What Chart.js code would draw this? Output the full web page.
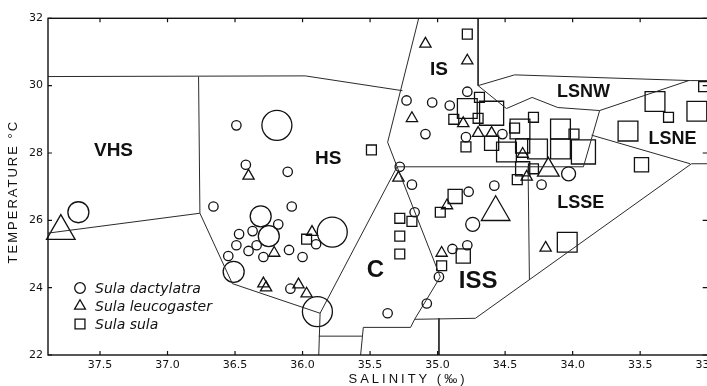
<!DOCTYPE html>
<html><head><meta charset="utf-8">
<script src="https://cdn.jsdelivr.net/npm/chart.js@4.4.1/dist/chart.umd.min.js"></script>
<style>
html,body{margin:0;padding:0;background:#fff;overflow:hidden;width:707px;height:386px}
#wrap{width:728px;height:386px}
</style></head>
<body><div id="wrap"><canvas id="c" width="728" height="386"></canvas></div>
<script>
// ---- tick labels ----
const salinityTicks = [33.0, 33.5, 34.0, 34.5, 35.0, 35.5, 36.0, 36.5, 37.0, 37.5];
const temperatureTicks = [22, 24, 26, 28, 30, 32];

// ---- Sula dactylatra (circles): salinity, temperature, colony-size class ----
const dactylatraSalinity = [37.66,36.49,36.19,36.42,36.11,36.66,36.08,36.31,36.18,36.47,36.37,36.25,36.49,36.34,36.40,36.29,36.10,36.00,35.90,35.78,36.55,36.51,36.09,35.89,35.28,35.19,35.37,35.17,35.23,35.04,34.91,35.09,34.78,34.79,34.52,34.58,34.23,34.77,34.74,34.89,34.78,34.99,35.08,34.03];
const dactylatraTemperature = [26.24,28.82,28.82,27.65,27.44,26.41,26.41,26.12,25.88,25.59,25.68,25.53,25.26,25.26,25.09,24.91,25.12,24.91,25.29,25.65,24.94,24.47,23.97,23.29,27.59,27.06,23.24,26.24,29.56,29.50,29.41,28.56,29.82,28.47,28.56,27.03,27.06,26.85,25.88,25.15,25.26,24.32,23.53,27.38];
const dactylatraSize = [3,1,4,1,1,1,1,3,1,1,1,3,1,1,1,1,1,1,1,4,1,3,1,4,1,1,1,1,1,1,1,1,1,1,1,1,1,1,2,1,1,1,1,2];

// ---- Sula leucogaster (triangles) ----
const leucogasterSalinity = [37.79,36.40,36.21,35.93,36.29,36.27,36.03,35.97,35.29,35.09,34.78,35.19,34.81,34.70,34.60,34.93,34.57,34.97,34.18,34.34,34.20,34.37];
const leucogasterTemperature = [25.68,27.32,25.03,25.65,24.12,24.00,24.09,23.82,27.26,31.24,30.74,29.03,28.88,28.59,28.59,26.44,26.24,25.03,27.50,27.29,25.18,27.97];
const leucogasterSize = [4,1,1,1,1,1,1,1,1,1,1,1,1,1,1,1,4,1,3,1,1,1];

// ---- Sula sula (squares) ----
const sulaSalinity = [35.49,34.78,34.69,34.78,34.60,34.88,34.70,34.79,34.60,34.39,34.43,34.29,34.49,34.37,34.26,34.09,33.99,34.09,33.92,34.37,34.29,34.41,34.87,34.98,34.81,34.97,35.28,35.19,35.28,35.28,34.04,33.39,33.29,33.59,33.49,33.03,33.08,35.97];
const sulaTemperature = [28.09,31.53,29.65,29.32,29.18,29.00,29.03,28.18,28.29,28.71,28.74,29.06,28.03,28.21,28.12,28.71,28.56,28.12,28.03,27.53,27.53,27.21,26.71,26.24,24.94,24.65,26.06,25.97,25.53,25.00,25.35,29.53,29.06,28.65,27.65,29.97,29.24,25.44];
const sulaSize = [1,1,1,3,4,1,1,1,2,3,1,1,3,2,3,3,1,3,4,2,1,1,2,1,2,1,1,1,1,1,3,3,1,3,2,1,3,1];

// ---- water-mass boundaries: [salinity, temperature] vertices ----
const boundaryTop = [[37.885,30.27],[35.98,30.29],[35.26,29.85]];
const boundaryVhsHs = [[36.77,30.27],[36.76,26.21]];
const boundaryHsSouth = [[37.885,25.62],[36.76,26.21],[36.52,24.12],[35.87,23.24],[35.30,27.59]];
const boundaryIsWestIssSouth = [[35.14,32.0],[35.37,28.32],[35.30,27.59],[34.98,24.32],[35.17,23.06],[34.72,23.09],[33.12,27.68],[32.985,27.68]];
const boundaryCWest = [[35.87,23.24],[35.88,22.0]];
const boundaryBoxTop = [[35.88,22.56],[35.56,22.56]];
const boundaryCSouth = [[35.57,22.0],[35.55,22.82],[35.20,22.82],[35.17,23.06]];
const boundaryIssSouth = [[34.99,23.09],[34.99,22.0]];
const boundaryIsSouth = [[35.30,27.59],[33.92,27.59],[33.80,29.26]];
const boundaryLsnwNorth = [[34.70,32.0],[34.70,30.0],[34.43,30.32],[33.13,30.15],[32.985,30.15]];
const boundaryLsnwSouth = [[34.70,30.0],[34.49,29.32],[34.30,29.65],[34.11,29.35],[33.80,29.26],[33.14,30.15]];
const boundaryLsneSouth = [[33.86,28.53],[33.13,27.68]];
const boundaryLsseWest = [[34.33,27.59],[34.32,24.24]];

// ---- water-mass labels ----
const regionNames = ['VHS','HS','IS','LSNW','LSNE','LSSE','ISS','C'];
const regionSalinity = [37.40,35.81,34.99,33.92,33.26,33.94,34.70,35.46];
const regionTemperature = [28.06,27.82,30.47,29.82,28.41,26.50,24.18,24.50];

// ---- styles (kept apart from the data) ----
const INK = '#111';
const regionFontPx = {VHS:19, HS:19, IS:19, LSNW:18, LSNE:18, LSSE:18, ISS:24, C:24};
const circleRadius = [0, 4.7, 7, 10.5, 15];
const triangleRadius = [0, 6.5, 10, 12.5, 16.5];
const squareRadius = [0, 7, 10, 14, 17];

const boundaries = [boundaryTop, boundaryVhsHs, boundaryHsSouth, boundaryIsWestIssSouth, boundaryCWest,
  boundaryBoxTop, boundaryCSouth, boundaryIssSouth, boundaryIsSouth, boundaryLsnwNorth, boundaryLsnwSouth,
  boundaryLsneSouth, boundaryLsseWest];

function speciesDataset(label, sal, temp, size, style, radii) {
  return {
    label,
    data: sal.map((s, i) => ({x: s, y: temp[i]})),
    pointStyle: style,
    pointRadius: size.map(c => radii[c]),
    pointBackgroundColor: 'rgba(0,0,0,0)',
    pointBorderColor: INK,
    pointBorderWidth: 1.3,
    showLine: false,
    clip: false
  };
}

const datasets = [
  ...boundaries.map(b => ({
    label: 'boundary',
    data: b.map(([s, t]) => ({x: s, y: t})),
    showLine: true, borderColor: '#2a2a2a', borderWidth: 1, pointRadius: 0, fill: false, tension: 0
  })),
  speciesDataset('Sula dactylatra', dactylatraSalinity, dactylatraTemperature, dactylatraSize, 'circle', circleRadius),
  speciesDataset('Sula leucogaster', leucogasterSalinity, leucogasterTemperature, leucogasterSize, 'triangle', triangleRadius),
  speciesDataset('Sula sula', sulaSalinity, sulaTemperature, sulaSize, 'rect', squareRadius)
];

const legendSymbols = {'circle': 5.3, 'triangle': 6.3, 'rect': 7};

const overlay = {
  id: 'overlay',
  afterDraw(chart) {
    const {ctx, chartArea: a, scales: {x, y}} = chart;
    ctx.save();
    // frame
    ctx.strokeStyle = INK;
    ctx.lineWidth = 1.4;
    ctx.strokeRect(a.left, a.top, a.right - a.left, a.bottom - a.top);
    // inward tick marks
    ctx.lineWidth = 1.2;
    ctx.beginPath();
    x.ticks.forEach(t => {
      const p = x.getPixelForValue(t.value);
      ctx.moveTo(p, a.bottom); ctx.lineTo(p, a.bottom - 4);
      ctx.moveTo(p, a.top); ctx.lineTo(p, a.top + 4);
    });
    y.ticks.forEach(t => {
      const p = y.getPixelForValue(t.value);
      ctx.moveTo(a.left, p); ctx.lineTo(a.left + 4, p);
      ctx.moveTo(a.right - 2, p); ctx.lineTo(a.right - 7, p);
    });
    ctx.stroke();
    // water-mass labels
    ctx.fillStyle = INK;
    ctx.textAlign = 'center';
    ctx.textBaseline = 'middle';
    regionNames.forEach((n, i) => {
      ctx.font = `bold ${regionFontPx[n]}px "Liberation Sans", Arial, sans-serif`;
      ctx.fillText(n, x.getPixelForValue(regionSalinity[i]), y.getPixelForValue(regionTemperature[i]));
    });
    // legend (inside, lower left)
    const species = chart.data.datasets.filter(d => d.label !== 'boundary');
    ctx.textAlign = 'left';
    ctx.font = 'italic 14px "DejaVu Sans", sans-serif';
    species.forEach((d, i) => {
      const ly = a.bottom - 67 + i * 18;
      const lx = a.left + 32;
      ctx.strokeStyle = INK; ctx.fillStyle = 'rgba(0,0,0,0)'; ctx.lineWidth = 1.3;
      Chart.helpers.drawPoint(ctx, {pointStyle: d.pointStyle, radius: legendSymbols[d.pointStyle], rotation: 0, borderWidth: 1.3}, lx, ly);
      ctx.fillStyle = INK;
      ctx.fillText(d.label, lx + 15, ly + 1);
    });
    // axis titles
    ctx.fillStyle = INK;
    ctx.font = '13px "Liberation Sans", Arial, sans-serif';
    ctx.textAlign = 'center';
    ctx.textBaseline = 'middle';
    try { ctx.letterSpacing = '3px'; } catch (e) {}
    ctx.fillText('SALINITY (‰)', 408, 379);
    try { ctx.letterSpacing = '2px'; } catch (e) {}
    ctx.translate(13, (a.top + a.bottom) / 2 + 5);
    ctx.rotate(-Math.PI / 2);
    ctx.fillText('TEMPERATURE °C', 0, 0);
    ctx.restore();
  }
};

new Chart(document.getElementById('c'), {
  type: 'scatter',
  data: {datasets},
  options: {
    responsive: false,
    animation: false,
    events: [],
    layout: {padding: {top: 15, right: 11, bottom: 0, left: 0}},
    plugins: {legend: {display: false}, tooltip: {enabled: false}},
    scales: {
      x: {
        type: 'linear', reverse: true, min: 32.985, max: 37.885,
        grid: {display: false, drawTicks: false},
        border: {display: false},
        ticks: {
          color: INK, padding: 4, maxRotation: 0, autoSkip: false,
          font: {family: '"DejaVu Sans", sans-serif', size: 11},
          callback: v => Number(v).toFixed(1)
        },
        afterBuildTicks: s => { s.ticks = salinityTicks.map(v => ({value: v})).reverse(); },
        afterFit: s => { s.height = 31; s.paddingLeft = 0; s.paddingRight = 0; }
      },
      y: {
        type: 'linear', min: 22, max: 32,
        grid: {display: false, drawTicks: false},
        border: {display: false},
        ticks: {
          color: INK, padding: 5,
          font: {family: '"DejaVu Sans", sans-serif', size: 11},
          callback: v => String(v)
        },
        afterBuildTicks: s => { s.ticks = temperatureTicks.map(v => ({value: v})); },
        afterFit: s => { s.width = 48; s.paddingTop = 0; s.paddingBottom = 0; }
      }
    }
  },
  plugins: [overlay]
});
</script>
</body></html>
